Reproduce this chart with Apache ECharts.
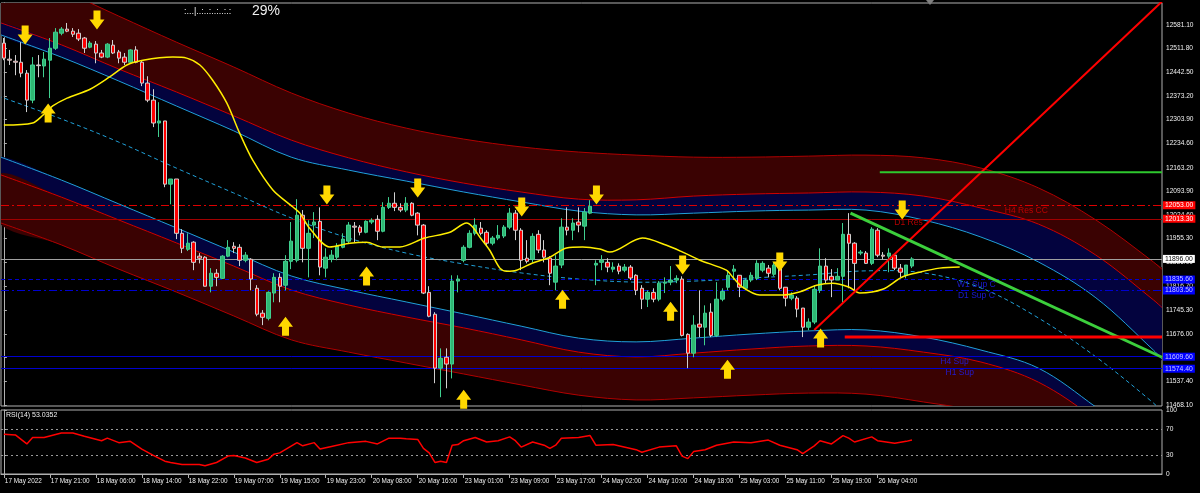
<!DOCTYPE html>
<html><head><meta charset="utf-8">
<script src="https://cdn.jsdelivr.net/npm/echarts@6/dist/echarts.min.js"></script>
<style>html,body{margin:0;padding:0;background:#000}#c{width:1200px;height:493px}</style>
</head><body><div id="c"></div>
<script>
// ---------- DATA ----------
const timeLabels = ['17 May 2022','17 May 21:00','18 May 06:00','18 May 14:00','18 May 22:00','19 May 07:00','19 May 15:00','19 May 23:00','20 May 08:00','20 May 16:00','23 May 01:00','23 May 09:00','23 May 17:00','24 May 02:00','24 May 10:00','24 May 18:00','25 May 03:00','25 May 11:00','25 May 19:00','26 May 04:00'];
const priceTicks = [12581.1,12511.8,12442.5,12373.2,12303.9,12234.6,12163.2,12093.9,12024.6,11955.3,11886.0,11816.7,11745.3,11676.0,11606.7,11537.4,11468.1];
const rsiTicks = [0,30,70,100];

const candleOpen = [12528,12481,12475,12472,12440,12361,12464,12461,12478,12513,12557,12569,12563,12557,12543,12516,12525,12499,12487,12522,12502,12487,12472,12508,12472,12411,12361,12294,12300,12115,12130,11971,11924,11945,11904,11901,11816,11854,11839,11904,11933,11930,11892,11895,11810,11737,11722,11796,11842,11819,11889,11892,12024,11927,11995,12006,11869,11895,11901,11930,11948,11992,11989,11974,12004,12012,11977,12047,12059,12047,12039,12059,12030,11995,11798,11734,11576,11608,11588,11831,11892,11930,11971,11986,11974,11942,11957,11963,11989,12030,11980,11898,11895,11968,11922,11898,11828,11878,11989,11980,12004,11992,12030,11878,11886,11886,11866,11875,11863,11872,11848,11810,11778,11798,11778,11825,11828,11834,11837,11675,11620,11705,11696,11740,11672,11778,11813,11860,11848,11810,11834,11839,11863,11869,11851,11878,11813,11781,11781,11752,11696,11711,11804,11875,11845,11834,11845,11968,11942,11913,11913,11883,11980,11907,11904,11907,11869,11848,11875];
const candleClose = [12484,12478,12472,12440,12361,12464,12462,12481,12513,12560,12569,12563,12554,12540,12513,12528,12499,12487,12525,12499,12484,12472,12508,12472,12411,12361,12294,12300,12115,12130,11971,11927,11942,11886,11898,11816,11854,11842,11904,11930,11927,11892,11907,11837,11734,11725,11798,11842,11816,11889,11948,12024,11927,11971,12004,11872,11901,11907,11933,11954,11995,11989,11974,12006,12009,11977,12047,12059,12047,12039,12059,12024,11995,11796,11728,11576,11605,11588,11831,11837,11930,11971,11995,11971,11942,11957,11965,11989,12030,11980,11892,11889,11962,11922,11901,11854,11875,11989,11980,12001,11995,12033,12050,11883,11892,11872,11872,11860,11872,11840,11804,11778,11798,11778,11825,11828,11834,11839,11672,11620,11702,11696,11737,11672,11778,11801,11848,11866,11813,11834,11848,11883,11883,11854,11878,11810,11781,11790,11749,11696,11711,11807,11875,11834,11834,11845,11968,11942,11883,11916,11883,11983,11907,11904,11913,11869,11857,11878,11896];
const candleHigh = [12543,12508,12493,12531,12449,12487,12493,12502,12543,12572,12575,12587,12572,12569,12546,12534,12534,12508,12528,12537,12508,12499,12510,12519,12478,12431,12393,12355,12300,12130,12130,11983,11971,11948,11913,11904,11869,11866,11907,11951,11945,11939,11916,11898,11819,11746,11801,11854,11854,11907,12004,12071,12039,12009,12033,12047,11927,11922,11942,11971,12004,12004,11995,12009,12015,12024,12062,12077,12091,12059,12077,12062,12033,11998,11816,11740,11634,11634,11848,11848,11936,11980,12015,12004,11980,11963,11995,11995,12045,12039,11986,11951,11971,11980,11951,11904,11907,12015,12047,12015,12047,12045,12068,11892,11907,11898,11886,11883,11881,11878,11851,11819,11804,11810,11831,11842,11875,11848,11845,11678,11731,11804,11760,11766,11828,11810,11863,11878,11848,11839,11857,11892,11889,11878,11886,11886,11813,11798,11787,11752,11722,11819,11927,11898,11866,11869,12001,12030,11945,11922,11919,11989,11986,11916,11927,11910,11881,11878,11901];
const candleLow = [12478,12464,12434,12428,12326,12352,12428,12428,12367,12508,12551,12560,12546,12534,12499,12513,12469,12484,12484,12496,12469,12464,12469,12469,12402,12355,12282,12253,12106,12056,11954,11913,11919,11863,11883,11816,11798,11816,11837,11901,11913,11875,11886,11804,11728,11702,11716,11769,11769,11804,11866,11886,11886,11842,11957,11848,11842,11886,11892,11927,11942,11945,11965,11971,11998,11951,11974,12042,12036,12033,12033,12021,11965,11793,11725,11532,11491,11517,11546,11798,11886,11927,11965,11965,11936,11936,11951,11957,11983,11951,11863,11883,11886,11913,11886,11819,11804,11869,11965,11951,11974,11951,12027,11819,11863,11857,11857,11851,11857,11834,11790,11749,11755,11769,11772,11796,11819,11825,11669,11576,11608,11667,11643,11667,11667,11772,11804,11834,11784,11804,11828,11834,11857,11842,11845,11804,11757,11775,11725,11667,11687,11705,11796,11825,11784,11834,11769,11810,11804,11907,11881,11878,11901,11895,11857,11863,11842,11839,11869];

// band curves sampled at bar indices
const bandIdx = [-1,10,20,30,40,50,60,70,80,90,100,110,120,130,140,150,160,170,180,190,200,202];
const bandCenter = [12373,12306,12238,12162,12089,12016,11957,11913,11881,11855,11837,11828,11831,11840,11849,11861,11855,11811,11723,11609,11474,11439];
const upperCyan  = [12555,12487,12417,12344,12271,12194,12156,12124,12092,12063,12036,12025,12030,12036,12039,12039,12010,11960,11887,11782,11629,11594];
const upperRed   = [12590,12523,12452,12385,12315,12244,12192,12151,12118,12092,12071,12069,12080,12086,12089,12092,12080,12045,11998,11907,11776,11746];
const upperOuter = [12760,12684,12607,12531,12458,12382,12323,12279,12247,12224,12209,12200,12194,12194,12197,12200,12192,12162,12104,12010,11887,11858];
const lowerCyan  = [12197,12127,12057,11987,11916,11846,11805,11770,11735,11699,11664,11653,11664,11676,11685,11688,11667,11629,11576,11462,11336,11307];
const lowerRed   = [12145,12077,12010,11943,11875,11805,11761,11726,11694,11659,11623,11609,11620,11632,11641,11641,11623,11594,11535,11424,11278,11248];
const lowerOuter = [12004,11937,11866,11799,11729,11659,11623,11591,11559,11527,11497,11483,11489,11497,11503,11500,11477,11448,11395,11278,11131,11102];

// yellow moving line
const maIdx = [0,5,6.8,8.5,11,15,18.4,21.4,24.2,29.4,31.8,34.1,36.3,38.8,41,43.3,46.8,50.3,51.5,53.2,56.7,60.2,63.1,65.9,68.9,73.2,77.6,80.5,81.6,82.8,84.5,86.3,87.5,89.2,92,95,97.9,100.7,103.7,105.4,111.1,115.3,118.1,121,125.7,126.8,128.5,131.5,135.5,138.4,141.4,144.2,147.1,148.9,152.9,156.3,159.3,162.8,166.3];
const maVal = [12288,12294,12317,12344,12367,12393,12429,12464,12478,12487,12484,12464,12420,12352,12265,12185,12098,12048,12030,11986,11931,11942,11945,11931,11931,11957,11974,12001,11989,11960,11922,11869,11860,11863,11884,11901,11928,11931,11925,11916,11957,11936,11916,11893,11863,11843,11813,11790,11790,11799,11819,11825,11813,11796,11807,11843,11857,11869,11872];

// arrows
const downArrowIdx = [3.7,16.2,56.2,72,90.1,103.1,118.1,135,156.3];
const downArrowVal = [12552,12596,12083,12104,12048,12083,11878,11887,12039];
const upArrowIdx = [7.7,49,63.1,80,97.2,116,125.9,142.1];
const upArrowVal = [12323,11699,11846,11485,11778,11743,11573,11664];

// horizontal levels
const levelPrices = [12053.0,12013.3,11896.0,11835.6,11803.5,11609.6,11574.4];
// level captions
const captionText = ['H4 Res CC','D1 Res','W1 Sup C','D1 Sup C','H4 Sup','H1 Sup'];
const captionIdx = [177.9,157.4,169.2,169.2,165.4,166.3];
const captionVal = [12036,12001,11822,11787,11594,11562];

// drawn objects
const redTrend = [[141,11688],[201.5,12650]];
const greenTrend = [[147.3,12030],[201.5,11608]];
const greenLevel = [[152.4,12150],[201.5,12150]];
const redLevel = [[146.3,11667],[201.5,11667]];

// RSI
const rsiIdx = [0,2,4,5,7,10,12,14,17,18,20,22,24,26,28,29,31,34,35,37,39,40,42,44,46,47,48,51,52,54,55,57,60,63,65,67,69,70,72,73,74,75,76,77,78,79,80,82,84,86,88,89,90,92,94,95,96,97,100,102,103,106,110,111,114,117,118,119,120,122,124,127,130,133,135,138,139,141,142,144,146,147,148,151,152,155,157,158];
const rsiVal = [62,61,47,57,57,64,64,59,52,56,49,51,39,29,20,18,15,15,13,18,28,29,25,18,23,31,33,49,44,49,39,43,49,51,47,56,56,55,54,40,33,18,20,18,45,46,52,57,50,52,58,52,42,50,45,40,45,56,57,60,45,46,38,34,42,44,28,24,35,38,45,50,49,53,45,38,32,44,52,47,60,56,50,58,52,48,51,53];

// ---------- CHART ----------
const N = 202;
const cats = Array.from({length:N},(_, i)=>i);
const candleData = candleOpen.map((o,i)=>[o, candleClose[i], candleLow[i], candleHigh[i]]);
const FONT = 'Liberation Sans';
const TXT = '#f0f0f0';
const showTick = (i)=> i%8===0 && i/8 < timeLabels.length;

const levelStyles = [
  {color:'#dd0000', type:[8,3,2,3], bg:'#ff0000', fg:'#ffffff'},
  {color:'#a00000', type:'solid', bg:'#ff0000', fg:'#ffffff'},
  {color:'#a0a0a0', type:'solid', bg:'#ffffff', fg:'#000000'},
  {color:'#0000d0', type:[4,3], bg:'#0000ff', fg:'#c8c8ff'},
  {color:'#0000d0', type:[8,3,2,3], bg:'#0000ff', fg:'#c8c8ff'},
  {color:'#0000d0', type:'solid', bg:'#0000ff', fg:'#c8c8ff'},
  {color:'#0000d0', type:'solid', bg:'#0000ff', fg:'#c8c8ff'}
];
const captionColors = ['#e00000','#e00000','#2020ff','#2020ff','#2020ff','#2020ff'];

function bandPts(api, arr){ return bandIdx.map((k,j)=>api.coord([k, arr[j]])); }
function polyBetween(api, a, b){
  const p = bandPts(api,a); const q = bandPts(api,b).reverse();
  return p.concat(q);
}
const SM = 0.35;

const downPath = 'path://M4,0 L11,0 L11,9 L15,9 L7.5,19 L0,9 L4,9 Z';
const upPath = 'path://M7.5,0 L15,10 L11,10 L11,19 L4,19 L4,10 L0,10 Z';

const option = {
  backgroundColor:'#000000',
  animation:false,
  grid:[
    {left:1, right:38, top:3, height:403, show:true, borderColor:'#b0b0b0', borderWidth:1, backgroundColor:'#000'},
    {left:1, right:38, top:410, height:64, show:true, borderColor:'#b0b0b0', borderWidth:1, backgroundColor:'#000'}
  ],
  xAxis:[
    {type:'category', gridIndex:0, data:cats, boundaryGap:true, axisLine:{show:false}, axisTick:{show:false}, axisLabel:{show:false}, splitLine:{show:false}},
    {type:'value', gridIndex:0, min:-0.5, max:201.5, show:false},
    {type:'category', gridIndex:1, data:cats, boundaryGap:true,
      axisLine:{show:true, lineStyle:{color:'#b0b0b0'}},
      axisTick:{show:true, alignWithLabel:true, interval:(i)=>showTick(i), length:4, lineStyle:{color:'#b0b0b0'}},
      axisLabel:{show:true, interval:(i)=>showTick(i), formatter:(v,i)=> timeLabels[i/8] || '', color:TXT, fontFamily:FONT, fontSize:6.4, align:'left', margin:4, padding:[0,0,0,1]},
      splitLine:{show:false}},
    {type:'value', gridIndex:1, min:-0.5, max:201.5, show:false}
  ],
  yAxis:[
    {type:'value', gridIndex:0, position:'right', min:11465.2, max:12645.5, scale:true, splitLine:{show:false},
      axisLine:{show:true, lineStyle:{color:'#b0b0b0'}},
      axisTick:{show:true, customValues:priceTicks, length:3, lineStyle:{color:'#b0b0b0'}},
      axisLabel:{show:true, customValues:priceTicks, formatter:(v)=>v.toFixed(2), color:TXT, fontFamily:FONT, fontSize:6.6, margin:4}},
    {type:'value', gridIndex:1, position:'right', min:0, max:100, splitLine:{show:false},
      axisLine:{show:true, lineStyle:{color:'#b0b0b0'}},
      axisTick:{show:true, customValues:rsiTicks, length:3, lineStyle:{color:'#b0b0b0'}},
      axisLabel:{show:true, customValues:rsiTicks, color:TXT, fontFamily:FONT, fontSize:6.6, margin:4}}
  ],
  series:[
    { // channel bands
      type:'custom', xAxisIndex:1, yAxisIndex:0, clip:true, z:1, silent:true,
      data:[0],
      renderItem:(params, api)=>{
        if(params.dataIndex!==0) return null;
        const line=(arr,color,w,dash)=>({type:'polyline', shape:{points:bandPts(api,arr), smooth:SM}, style:{stroke:color, lineWidth:w, fill:null, lineDash:dash||null}});
        return {type:'group', children:[
          {type:'polygon', shape:{points:polyBetween(api,upperOuter,upperRed), smooth:SM}, style:{fill:'#3a0202'}},
          {type:'polygon', shape:{points:polyBetween(api,upperRed,upperCyan), smooth:SM}, style:{fill:'#03033e'}},
          {type:'polygon', shape:{points:polyBetween(api,lowerCyan,lowerRed), smooth:SM}, style:{fill:'#03033e'}},
          {type:'polygon', shape:{points:polyBetween(api,lowerRed,lowerOuter), smooth:SM}, style:{fill:'#3a0202'}},
          line(upperOuter,'#b00000',1),
          line(upperRed,'#d00000',1),
          line(upperCyan,'#20a0d8',1),
          line(bandCenter,'#20a0d8',1,[4,3]),
          line(lowerCyan,'#20a0d8',1),
          line(lowerRed,'#d00000',1),
          line(lowerOuter,'#b00000',1)
        ]};
      }
    },
    { // candles + levels
      type:'candlestick', xAxisIndex:0, yAxisIndex:0, z:5, barWidth:4,
      data:candleData,
      itemStyle:{color:'#2fb873', color0:'#ff0000', borderColor:'#40d090', borderColor0:'#d0d0d0', borderWidth:1},
      markLine:{
        silent:true, symbol:['none','none'], animation:false,
        data: levelPrices.map((p,i)=>({
          yAxis:p,
          lineStyle:{color:levelStyles[i].color, type:levelStyles[i].type, width:1},
          label:{show:true, position:'end', distance:1, formatter:p.toFixed(2), backgroundColor:levelStyles[i].bg, color:levelStyles[i].fg, fontFamily:FONT, fontSize:6.8, padding:[1,2,0,2]}
        }))
      }
    },
    { // yellow line
      type:'line', xAxisIndex:1, yAxisIndex:0, z:6, symbol:'none', smooth:0.3,
      data: maIdx.map((k,i)=>[k, maVal[i]]),
      lineStyle:{color:'#ffee00', width:1.5}
    },
    {type:'line', xAxisIndex:1, yAxisIndex:0, z:7, symbol:'none', data:redTrend, lineStyle:{color:'#ff0000', width:2}},
    {type:'line', xAxisIndex:1, yAxisIndex:0, z:7, symbol:'none', data:greenTrend, lineStyle:{color:'#3ccf3c', width:3}},
    {type:'line', xAxisIndex:1, yAxisIndex:0, z:7, symbol:'none', data:greenLevel, lineStyle:{color:'#2ec82e', width:2}},
    {type:'line', xAxisIndex:1, yAxisIndex:0, z:7, symbol:'none', data:redLevel, lineStyle:{color:'#ff0000', width:3}},
    {type:'scatter', xAxisIndex:1, yAxisIndex:0, z:8, symbol:downPath, symbolSize:[15,19], itemStyle:{color:'#ffd800', opacity:1},
      data: downArrowIdx.map((k,i)=>[k, downArrowVal[i]])},
    {type:'scatter', xAxisIndex:1, yAxisIndex:0, z:8, symbol:upPath, symbolSize:[15,19], itemStyle:{color:'#ffd800', opacity:1},
      data: upArrowIdx.map((k,i)=>[k, upArrowVal[i]])},
    {type:'scatter', xAxisIndex:1, yAxisIndex:0, z:8, symbolSize:0,
      data: captionIdx.map((k,i)=>({value:[k, captionVal[i]], label:{show:true, position:'inside', formatter:captionText[i], color:captionColors[i], fontFamily:FONT, fontSize:8.5}}))},
    { // RSI
      type:'line', xAxisIndex:3, yAxisIndex:1, symbol:'none', z:5,
      data: rsiIdx.map((k,i)=>[k, rsiVal[i]]),
      lineStyle:{color:'#ff0000', width:1.5},
      markLine:{silent:true, symbol:['none','none'], label:{show:false},
        data:[{yAxis:70},{yAxis:30}], lineStyle:{color:'#9a9a9a', type:[2,3], width:1}}
    }
  ],
  graphic:[
    {type:'text', left:6, top:4, style:{text:'\u25BC NDXUSD,,H1', fill:TXT, font:'7.5px "Liberation Sans"'}},
    {type:'text', left:184, top:7, style:{text:':...|..:..:..:..:.:', fill:TXT, font:'9px "Liberation Sans"'}},
    {type:'text', left:252, top:4, style:{text:'29%', fill:TXT, font:'14px "Liberation Sans"'}},
    {type:'text', left:6, top:412, style:{text:'RSI(14) 53.0352', fill:TXT, font:'7px "Liberation Sans"'}},
    {type:'polygon', shape:{points:[[926,0],[934,0],[930,5]]}, style:{fill:'#808080'}}
  ]
};
const chart = echarts.init(document.getElementById('c'));
chart.setOption(option);
</script></body></html>
